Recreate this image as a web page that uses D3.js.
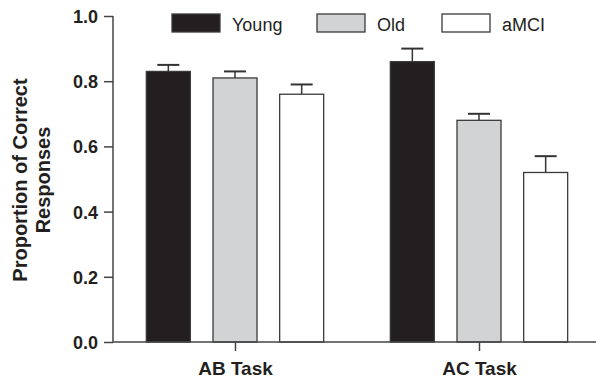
<!DOCTYPE html>
<html lang="en">
<head>
  <meta charset="UTF-8">
  <title>Proportion of Correct Responses</title>
  <style>
    body { margin: 0; background: #fff; }
    text { font-family: Arial, "Liberation Sans", Helvetica, sans-serif; fill: #231f20; }
  </style>
</head>
<body>
  <script src="https://cdn.jsdelivr.net/npm/d3@7/dist/d3.min.js"></script>
  <script>
    // data
    let tasks = ['AB Task', 'AC Task'];
    let groups = ['Young', 'Old', 'aMCI'];
    let young = [0.83, 0.86];
    let old = [0.81, 0.68];
    let amci = [0.76, 0.52];
    let youngErr = [0.02, 0.04];
    let oldErr = [0.02, 0.02];
    let amciErr = [0.03, 0.05];
    let yTicks = [0.0, 0.2, 0.4, 0.6, 0.8, 1.0];
    let colors = ['#231f20', '#d1d3d4', '#ffffff'];

    let width = 596;
    let height = 380;
    let svg = d3.select('body')
                .append('svg')
                .attr('width', width)
                .attr('height', height);

    // scales
    let x0 = d3.scalePoint()
               .domain(tasks)
               .range([113, 601])
               .padding(0.5);
    let x1 = d3.scaleBand()
               .domain(groups)
               .range([-100, 100])
               .paddingInner(0.34)
               .paddingOuter(0.17);
    let y = d3.scaleLinear()
              .domain([0, 1])
              .range([342, 16]);

    let rows = [];
    let vals = [young, old, amci];
    let errs = [youngErr, oldErr, amciErr];
    groups.forEach(function(g, gi) {
      tasks.forEach(function(t, ti) {
        rows.push({ task: t, group: g, gi: gi, value: vals[gi][ti], err: errs[gi][ti] });
      });
    });

    // error bars (upper only), drawn behind bars
    let eb = svg.append('g');
    eb.selectAll('line.stem')
      .data(rows)
      .enter()
      .append('line')
      .attr('x1', d => x0(d.task) + x1(d.group) + x1.bandwidth() / 2)
      .attr('x2', d => x0(d.task) + x1(d.group) + x1.bandwidth() / 2)
      .attr('y1', d => y(d.value))
      .attr('y2', d => y(d.value + d.err))
      .attr('stroke', '#333')
      .attr('stroke-width', 1.5);
    eb.selectAll('line.cap')
      .data(rows)
      .enter()
      .append('line')
      .attr('x1', d => x0(d.task) + x1(d.group) + x1.bandwidth() / 2 - 11)
      .attr('x2', d => x0(d.task) + x1(d.group) + x1.bandwidth() / 2 + 11)
      .attr('y1', d => y(d.value + d.err))
      .attr('y2', d => y(d.value + d.err))
      .attr('stroke', '#333')
      .attr('stroke-width', 2);

    // bars
    svg.append('g')
       .selectAll('rect')
       .data(rows)
       .enter()
       .append('rect')
       .attr('x', d => x0(d.task) + x1(d.group))
       .attr('y', d => y(d.value))
       .attr('width', x1.bandwidth())
       .attr('height', d => y(0) - y(d.value))
       .attr('fill', d => colors[d.gi])
       .attr('stroke', '#3a3a3a')
       .attr('stroke-width', 1.3);

    // axes
    let yAxis = d3.axisLeft(y)
                  .tickValues(yTicks)
                  .tickFormat(d3.format('.1f'))
                  .tickSize(9)
                  .tickPadding(6);
    let gy = svg.append('g')
                .attr('transform', 'translate(113, 0)')
                .call(yAxis);
    let xAxis = d3.axisBottom(x0)
                  .tickSize(9)
                  .tickPadding(6);
    let gx = svg.append('g')
                .attr('transform', 'translate(0, 342)')
                .call(xAxis);
    gy.select('.domain').attr('d', 'M0,16V342');
    gx.select('.domain').attr('d', 'M113,0H596');
    [gy, gx].forEach(function(g) {
      g.selectAll('.domain, .tick line')
       .attr('stroke', '#444')
       .attr('stroke-width', 1.5);
      g.selectAll('.tick text')
       .attr('fill', '#231f20')
       .style('font-family', 'Arial, "Liberation Sans", sans-serif')
       .style('font-weight', 'bold');
    });
    gy.selectAll('.tick text').style('font-size', '18px').attr('dy', '0.36em');
    gx.selectAll('.tick text').style('font-size', '19px').attr('dy', '0.95em');

    // y axis title
    let yt = svg.append('text')
                .attr('transform', 'translate(27, 180) rotate(-90)')
                .attr('text-anchor', 'middle')
                .style('font-size', '20px')
                .style('font-weight', 'bold');
    yt.append('tspan').attr('x', 0).attr('y', 0).text('Proportion of Correct');
    yt.append('tspan').attr('x', 0).attr('y', 23).text('Responses');

    // legend
    let legendX = [172, 317, 442];
    let legend = svg.append('g')
                    .selectAll('g')
                    .data(groups)
                    .enter()
                    .append('g')
                    .attr('transform', (d, i) => 'translate(' + legendX[i] + ', 14)');
    legend.append('rect')
          .attr('width', 48)
          .attr('height', 18)
          .attr('fill', (d, i) => colors[i])
          .attr('stroke', '#3a3a3a')
          .attr('stroke-width', 1.3);
    legend.append('text')
          .attr('x', 60)
          .attr('y', 16.5)
          .style('font-size', '18px')
          .text(d => d);
  </script>
</body>
</html>
